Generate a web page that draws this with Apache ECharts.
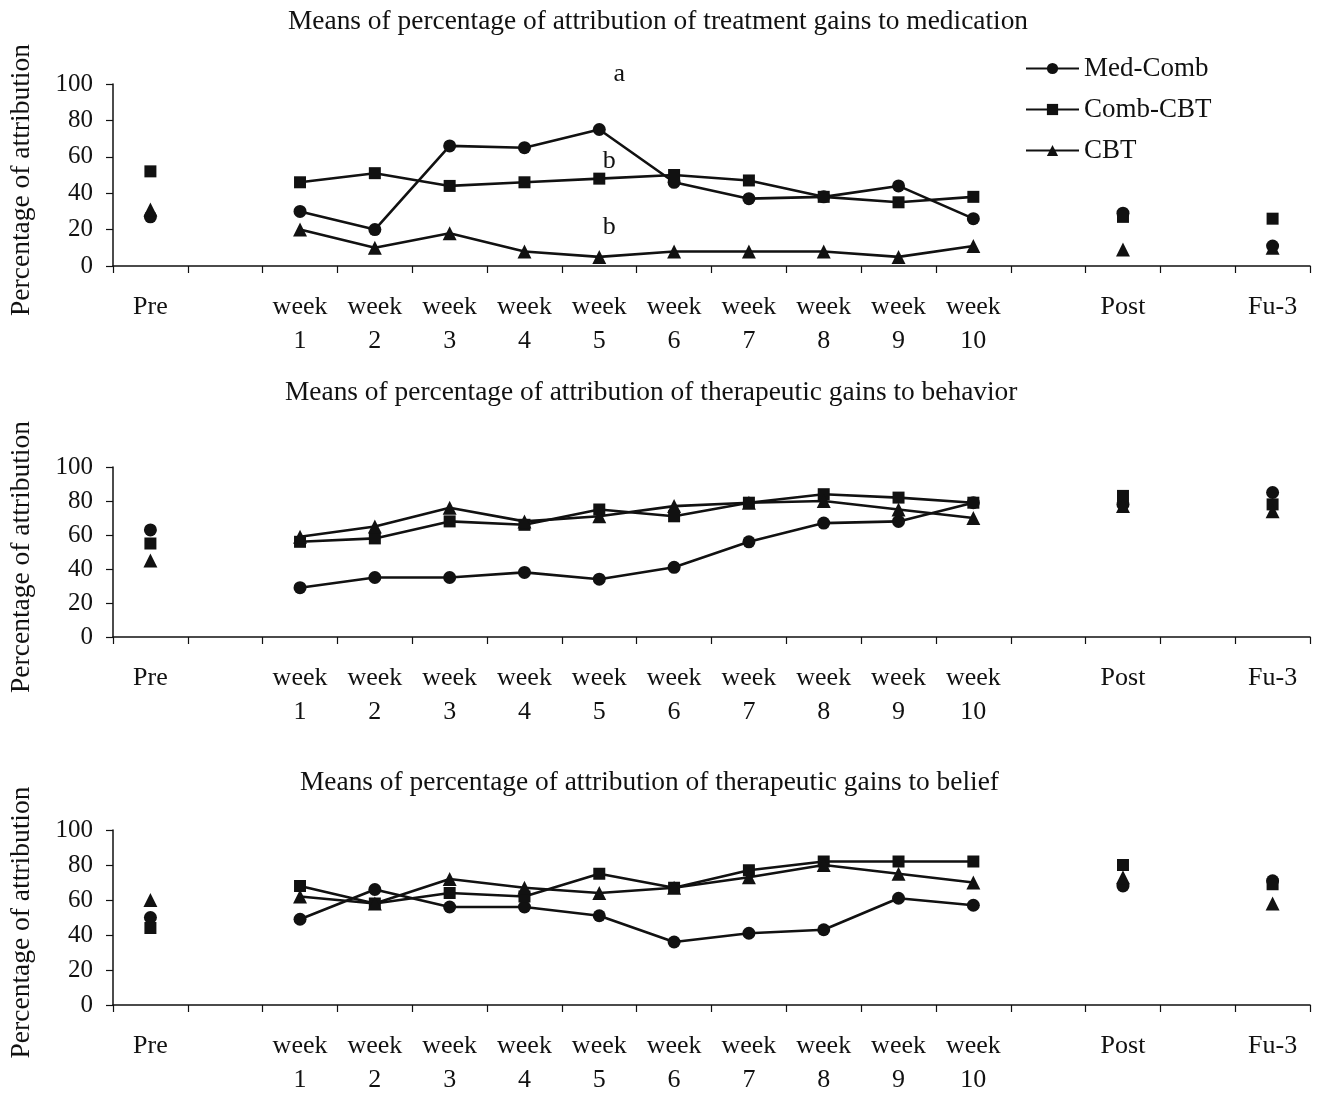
<!DOCTYPE html>
<html>
<head>
<meta charset="utf-8">
<script src="https://cdn.jsdelivr.net/npm/echarts@6/dist/echarts.min.js"></script>
<style>
  html, body { margin: 0; padding: 0; background: #fff; }
  #chart { width: 1318px; height: 1098px; }
</style>
</head>
<body>
<div id="chart"></div>
<script>
// Time points on the x axis; empty slots separate Pre, the ten weeks, Post and Fu-3.
var xLabels = ['Pre', '', 'week\n1', 'week\n2', 'week\n3', 'week\n4', 'week\n5',
  'week\n6', 'week\n7', 'week\n8', 'week\n9', 'week\n10', '', 'Post', '', 'Fu-3'];
var yTicks = [0, 20, 40, 60, 80, 100];
var groups = ['Med-Comb', 'Comb-CBT', 'CBT'];
var panelTitles = [
  'Means of percentage of attribution of treatment gains to medication',
  'Means of percentage of attribution of therapeutic gains to behavior',
  'Means of percentage of attribution of therapeutic gains to belief'
];

// Medication: [Pre, Post, Fu-3] and weeks 1-10
var medicationMedCombPP = [27, 29, 11];
var medicationMedCombWeeks = [30, 20, 66, 65, 75, 46, 37, 38, 44, 26];
var medicationCombCbtPP = [52, 27, 26];
var medicationCombCbtWeeks = [46, 51, 44, 46, 48, 50, 47, 38, 35, 38];
var medicationCbtPP = [31, 9, 10];
var medicationCbtWeeks = [20, 10, 18, 8, 5, 8, 8, 8, 5, 11];

// Behavior
var behaviorMedCombPP = [63, 78, 85];
var behaviorMedCombWeeks = [29, 35, 35, 38, 34, 41, 56, 67, 68, 79];
var behaviorCombCbtPP = [55, 83, 78];
var behaviorCombCbtWeeks = [56, 58, 68, 66, 75, 71, 79, 84, 82, 79];
var behaviorCbtPP = [45, 77, 74];
var behaviorCbtWeeks = [59, 65, 76, 68, 71, 77, 79, 80, 75, 70];

// Belief
var beliefMedCombPP = [50, 68, 71];
var beliefMedCombWeeks = [49, 66, 56, 56, 51, 36, 41, 43, 61, 57];
var beliefCombCbtPP = [44, 80, 69];
var beliefCombCbtWeeks = [68, 58, 64, 62, 75, 67, 77, 82, 82, 82];
var beliefCbtPP = [60, 73, 58];
var beliefCbtWeeks = [62, 58, 72, 67, 64, 67, 73, 80, 75, 70];

// Significance letters in the medication panel (text, x slot, y value)
var sigText = ['a', 'b', 'b'];
var sigSlot = [6, 6, 6];
var sigValue = [100, 57.5, 21.5];

var FONT = 'Liberation Serif';
var INK = '#111';

function fullRow(pp, weeks) {
  return [pp[0], null].concat(weeks, [null, pp[1], null, pp[2]]);
}

var panels = [
  { rows: [[medicationMedCombPP, medicationMedCombWeeks], [medicationCombCbtPP, medicationCombCbtWeeks], [medicationCbtPP, medicationCbtWeeks]] },
  { rows: [[behaviorMedCombPP, behaviorMedCombWeeks], [behaviorCombCbtPP, behaviorCombCbtWeeks], [behaviorCbtPP, behaviorCbtWeeks]] },
  { rows: [[beliefMedCombPP, beliefMedCombWeeks], [beliefCombCbtPP, beliefCombCbtWeeks], [beliefCbtPP, beliefCbtWeeks]] }
];

var gridLayout = [
  { top: 84, height: 182 },
  { top: 467, height: 170 },
  { top: 830, height: 175 }
];
var titleLayout = [
  { left: 288, top: 8 },
  { left: 285, top: 379 },
  { left: 300, top: 769 }
];
var symbols = ['circle', 'rect', 'triangle'];
var symbolSizes = [13, 12, 14];

var grids = [], xAxes = [], yAxes = [], series = [], titles = [];

panels.forEach(function (p, pi) {
  grids.push({ left: 113, right: 8, top: gridLayout[pi].top, height: gridLayout[pi].height });
  titles.push({
    text: panelTitles[pi],
    left: titleLayout[pi].left, top: titleLayout[pi].top, padding: 0,
    textStyle: { fontFamily: FONT, fontSize: 27.4, fontWeight: 'normal', color: INK }
  });
  xAxes.push({
    type: 'category', gridIndex: pi,
    data: xLabels.map(function (l, i) { return 'slot' + i; }),
    boundaryGap: true,
    axisLine: { lineStyle: { color: INK, width: 1.5 } },
    axisTick: { show: true, alignWithLabel: false, length: 7, lineStyle: { color: INK, width: 1.2 } },
    axisLabel: {
      interval: 0, margin: 24, color: INK, fontFamily: FONT, fontSize: 26, lineHeight: 34,
      formatter: function (v, i) { return xLabels[i]; }
    }
  });
  yAxes.push({
    type: 'value', gridIndex: pi, min: yTicks[0], max: yTicks[yTicks.length - 1], interval: 20,
    name: 'Percentage of attribution', nameLocation: 'middle', nameGap: 77,
    nameTextStyle: { fontFamily: FONT, fontSize: 27.5, color: INK, padding: [0, 10, 0, 0] },
    splitLine: { show: false },
    axisLine: { show: true, lineStyle: { color: INK, width: 1.5 } },
    axisTick: { show: true, length: 7, lineStyle: { color: INK, width: 1.2 } },
    axisLabel: { margin: 20, color: INK, fontFamily: FONT, fontSize: 25 }
  });
  p.rows.forEach(function (r, si) {
    var s = {
      name: groups[si], type: 'line', xAxisIndex: pi, yAxisIndex: pi,
      data: fullRow(r[0], r[1]),
      symbol: symbols[si], symbolSize: symbolSizes[si], showSymbol: true, showAllSymbol: true,
      connectNulls: false,
      lineStyle: { color: INK, width: 2.6 },
      itemStyle: { color: INK, borderColor: INK, borderWidth: 0 },
      emphasis: { disabled: true },
      animation: false
    };
    if (pi === 0 && si === 0) {
      s.markPoint = {
        symbol: 'circle', symbolSize: 1,
        itemStyle: { color: 'rgba(0,0,0,0)' },
        label: { show: true, position: 'inside', color: INK, fontFamily: FONT, fontSize: 26 },
        data: sigText.map(function (t, k) {
          return {
            coord: [sigSlot[k], sigValue[k]],
            label: { formatter: t, offset: k === 0 ? [20, -10] : [10, 0] }
          };
        })
      };
    }
    series.push(s);
  });
});

var chart = echarts.init(document.getElementById('chart'), null, { renderer: 'canvas' });
chart.setOption({
  backgroundColor: '#fff',
  animation: false,
  title: titles,
  legend: {
    data: groups.map(function (g) { return { name: g }; }),
    orient: 'vertical', left: 1020, top: 50,
    itemWidth: 53, itemHeight: 14, itemGap: 14,
    textStyle: { fontFamily: FONT, fontSize: 27, color: INK },
    selectedMode: false
  },
  grid: grids,
  xAxis: xAxes,
  yAxis: yAxes,
  series: series
});
</script>
</body>
</html>
